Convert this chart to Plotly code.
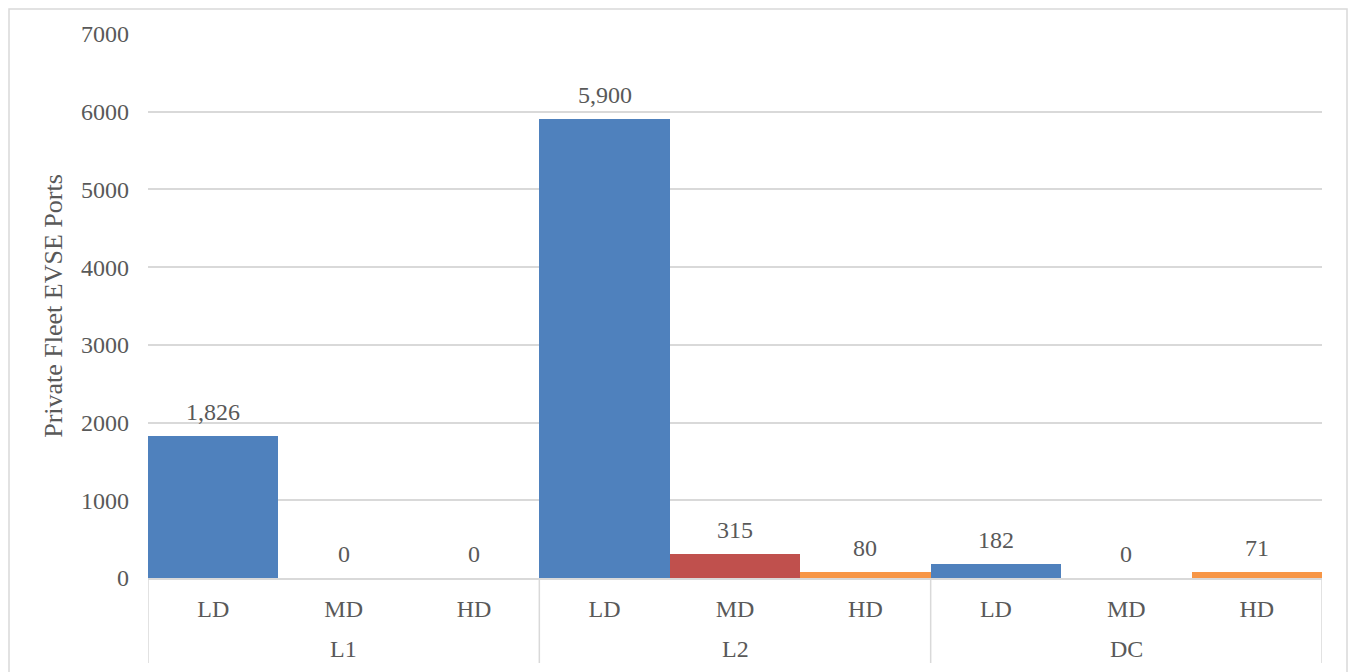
import plotly.graph_objects as go

groups = ["L1", "L1", "L1", "L2", "L2", "L2", "DC", "DC", "DC"]
duty = ["LD", "MD", "HD", "LD", "MD", "HD", "LD", "MD", "HD"]
ports = [1826, 0, 0, 5900, 315, 80, 182, 0, 71]
duty_colors = {"LD": "#4F81BD", "MD": "#C0504D", "HD": "#F79646"}

FONT = "Liberation Serif, Times New Roman, serif"
GRAY = "#595959"
LINE = "#D9D9D9"
FS = 24

W, H = 1349, 664
L, R, T, B = 140, 35, 26, 94
PW, PH = W - L - R, H - T - B

xpos = list(range(len(ports)))

fig = go.Figure()
fig.add_trace(go.Bar(
    x=xpos,
    y=ports,
    width=1.0,
    marker=dict(color=[duty_colors[d] for d in duty], line=dict(width=0)),
    showlegend=False,
    customdata=[[g, d] for g, d in zip(groups, duty)],
    hovertemplate="%{customdata[0]} %{customdata[1]}: %{y:,}<extra></extra>",
))

# value labels
annotations = [
    dict(x=i, y=v, xref="x", yref="y", text=f"{v:,}", showarrow=False,
         yanchor="bottom", yshift=9,
         font=dict(family=FONT, size=FS, color=GRAY))
    for i, v in zip(xpos, ports)
]

# group labels and dividers derived from the groups list
group_order = []
for g in groups:
    if g not in group_order:
        group_order.append(g)
shapes = []
bounds = []
for g in group_order:
    idx = [i for i, gg in enumerate(groups) if gg == g]
    lo, hi = min(idx) - 0.5, max(idx) + 0.5
    bounds += [lo, hi]
    annotations.append(dict(
        x=(lo + hi) / 2, y=-71 / PH, xref="x", yref="paper", text=g,
        showarrow=False, yanchor="middle",
        font=dict(family=FONT, size=FS, color=GRAY)))
for b in sorted(set(bounds)):
    shapes.append(dict(type="line", xref="x", yref="paper",
                       x0=b, x1=b, y0=0, y1=-85 / PH,
                       line=dict(color=LINE, width=1.5)))

# outer page border
shapes.append(dict(
    type="rect", xref="paper", yref="paper",
    x0=(1 - L) / PW, x1=(W - 10 - L) / PW,
    y0=-0.3, y1=(T + PH - 1) / PH,
    line=dict(color=LINE, width=1.5), fillcolor="rgba(0,0,0,0)",
    layer="below",
))

fig.update_layout(
    width=W, height=H,
    margin=dict(l=L, r=R, t=T, b=B),
    paper_bgcolor="white", plot_bgcolor="white",
    bargap=0,
    font=dict(family=FONT, size=FS, color=GRAY),
    yaxis=dict(
        range=[0, 7000], dtick=1000, tickformat="d",
        showgrid=True, gridcolor=LINE, gridwidth=1.5,
        zeroline=False, showline=False, ticks="",
        ticklabelstandoff=18,
        title=dict(text="Private Fleet EVSE Ports", font=dict(family=FONT, size=26, color=GRAY), standoff=10),
        tickfont=dict(family=FONT, size=FS, color=GRAY),
    ),
    xaxis=dict(
        range=[-0.5, len(ports) - 0.5],
        tickmode="array", tickvals=xpos, ticktext=duty,
        showgrid=False, zeroline=False,
        showline=True, linecolor=LINE, linewidth=1.5,
        tickfont=dict(family=FONT, size=FS, color=GRAY),
        ticks="", ticklabelstandoff=8,
    ),
    annotations=annotations,
    shapes=shapes,
)

fig.write_html("out.html")
